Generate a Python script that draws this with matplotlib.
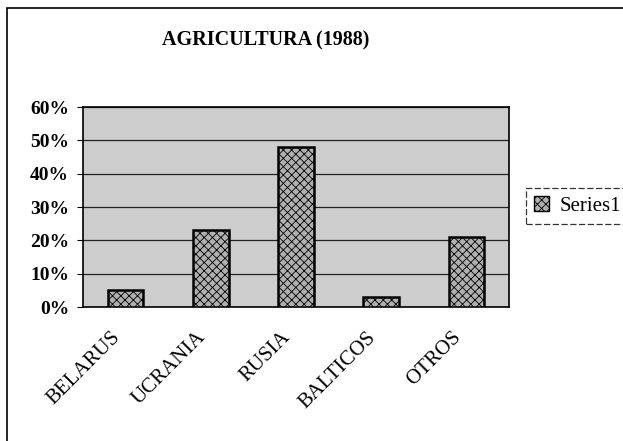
import matplotlib
matplotlib.use("Agg")
import matplotlib.pyplot as plt
from matplotlib.patches import Rectangle
from matplotlib.ticker import PercentFormatter
from matplotlib.transforms import ScaledTranslation

# Datos del grafico
regiones = ["BELARUS", "UCRANIA", "RUSIA", "BALTICOS", "OTROS"]
porcentajes = [5, 23, 48, 3, 21]
marcas_y = [0, 10, 20, 30, 40, 50, 60]

plt.rcParams["font.family"] = ["Liberation Serif", "DejaVu Serif"]
plt.rcParams["hatch.color"] = "#6a6a6a"
plt.rcParams["hatch.linewidth"] = 0.6

fig = plt.figure(figsize=(6.23, 4.41), dpi=100)

# Marco exterior (cortado a la derecha)
fig.patches.append(Rectangle((7 / 623, -0.1), 1.2, 1 - 8 / 441 + 0.1,
                             transform=fig.transFigure, fill=False,
                             edgecolor="black", linewidth=1.2))

ax = fig.add_axes([83 / 623, 1 - 307 / 441, 426 / 623, 200 / 441])
ax.set_facecolor("#cdcdcd")
ax.patch.set_hatch("....")

x = range(len(regiones))
ax.bar(x, porcentajes, width=0.42, color="#b0b0b0", hatch="xxxx",
       edgecolor="black", linewidth=1.8, label="Series1", zorder=3)

ax.set_xlim(-0.5, len(regiones) - 0.5)
ax.set_ylim(0, 60)
ax.set_yticks(marcas_y)
ax.yaxis.set_major_formatter(PercentFormatter(decimals=0))
ax.grid(axis="y", color="#222222", linewidth=0.9, zorder=1)
ax.set_axisbelow(True)

ax.set_xticks(list(x))
ax.set_xticklabels(regiones, rotation=45, ha="right", va="center",
                   rotation_mode="anchor", fontsize=15)
ax.tick_params(axis="x", length=0, pad=20)
# etiquetas un poco desplazadas a la izquierda, como en el original
desplaza = ScaledTranslation(-8 / 100, 0, fig.dpi_scale_trans)
for lab in ax.get_xticklabels():
    lab.set_transform(lab.get_transform() + desplaza)

ax.tick_params(axis="y", length=4, pad=6, labelsize=14)
for lab in ax.get_yticklabels():
    lab.set_fontweight("bold")

for s in ax.spines.values():
    s.set_linewidth(1.2)
    s.set_color("black")

fig.text(266 / 623, 1 - 40 / 441, "AGRICULTURA (1988)", ha="center",
         va="center", fontsize=14.5, fontweight="bold")

leg = ax.legend(loc="center left", bbox_to_anchor=(526 / 623, 1 - 206 / 441),
                bbox_transform=fig.transFigure, frameon=True, fancybox=False,
                fontsize=15, handlelength=0.7, handleheight=0.7,
                handletextpad=0.5, borderpad=0.4, borderaxespad=0)
leg.get_frame().set_edgecolor("black")
leg.get_frame().set_linestyle((0, (5, 2)))
leg.get_frame().set_linewidth(0.9)
for h in leg.legend_handles:
    h.set_linewidth(1.0)

fig.savefig("out.png", dpi=100)
